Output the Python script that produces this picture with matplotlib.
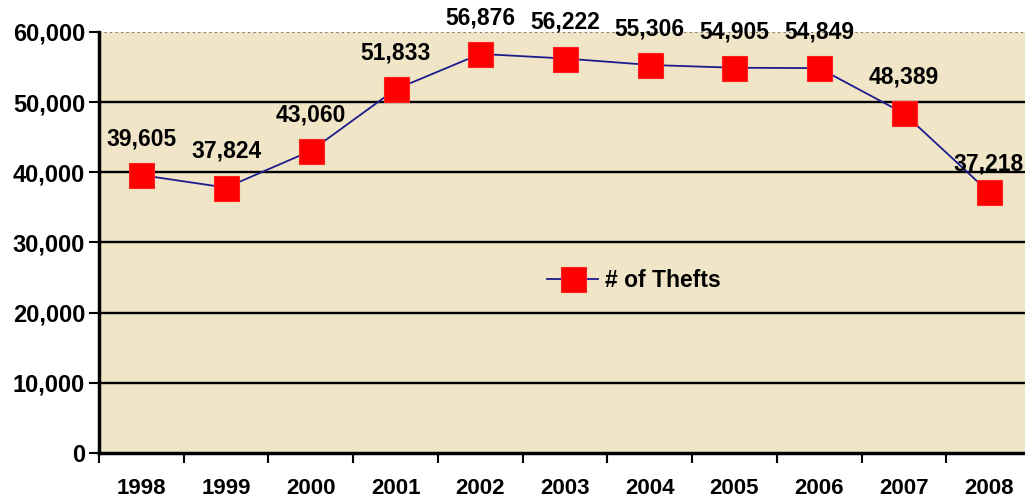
import matplotlib.pyplot as plt
import numpy as np

plt.rcParams['font.family'] = ['Liberation Sans', 'DejaVu Sans']
plt.rcParams['font.weight'] = 'bold'

years = ['1998', '1999', '2000', '2001', '2002', '2003', '2004', '2005', '2006', '2007', '2008']
thefts = [39605, 37824, 43060, 51833, 56876, 56222, 55306, 54905, 54849, 48389, 37218]
yticks = [0, 10000, 20000, 30000, 40000, 50000, 60000]

fig = plt.figure(figsize=(10.25, 5.03), dpi=100)
ax = fig.add_axes([99/1025, 1-453/503, 932/1025, 421/503])
ax.set_facecolor('#f1e5c8')

x = np.arange(len(years))
ax.plot(x, thefts, color='#1c1c8c', lw=1.3, marker='s', ms=18,
        mfc='#ff0000', mec='#ff2020', mew=0.8, label='# of Thefts', zorder=3)

for i, v in enumerate(thefts):
    off = 20 if i == len(thefts) - 1 else 26
    ax.annotate(f'{v:,}', (x[i], v), xytext=(0, off), textcoords='offset points',
                ha='center', va='center', fontsize=16.5, fontweight='bold')

ax.set_ylim(0, 60000)
ax.set_xlim(-0.5, len(years) - 0.5)
ax.set_yticks(yticks)
ax.set_yticklabels([f'{t:,}' for t in yticks], fontsize=17, fontweight='bold')
for t in yticks[1:-1]:
    ax.axhline(t, color='black', lw=1.7, zorder=1)
ax.axhline(60000, color='#777777', lw=1.5, ls=':', zorder=1)

ax.set_xticks(np.arange(len(years) + 1) - 0.5)
ax.set_xticklabels([])
ax.set_xticks(x, minor=True)
ax.set_xticklabels(years, minor=True, fontsize=16, fontweight='bold')
ax.tick_params(axis='x', which='minor', length=0, pad=18)
ax.tick_params(axis='x', which='major', length=7, width=1.5, direction='out')
ax.tick_params(axis='y', length=7, width=1.5, direction='out', pad=3)

for s in ['top', 'right']:
    ax.spines[s].set_visible(False)
ax.spines['left'].set_linewidth(2.5)
ax.spines['bottom'].set_linewidth(2.5)

leg = ax.legend(loc='center', bbox_to_anchor=(0.574, 0.409), frameon=False,
                prop={'size': 16.5, 'weight': 'bold'}, handlelength=2.2, handletextpad=0.3)

fig.savefig('out.png', dpi=100)
